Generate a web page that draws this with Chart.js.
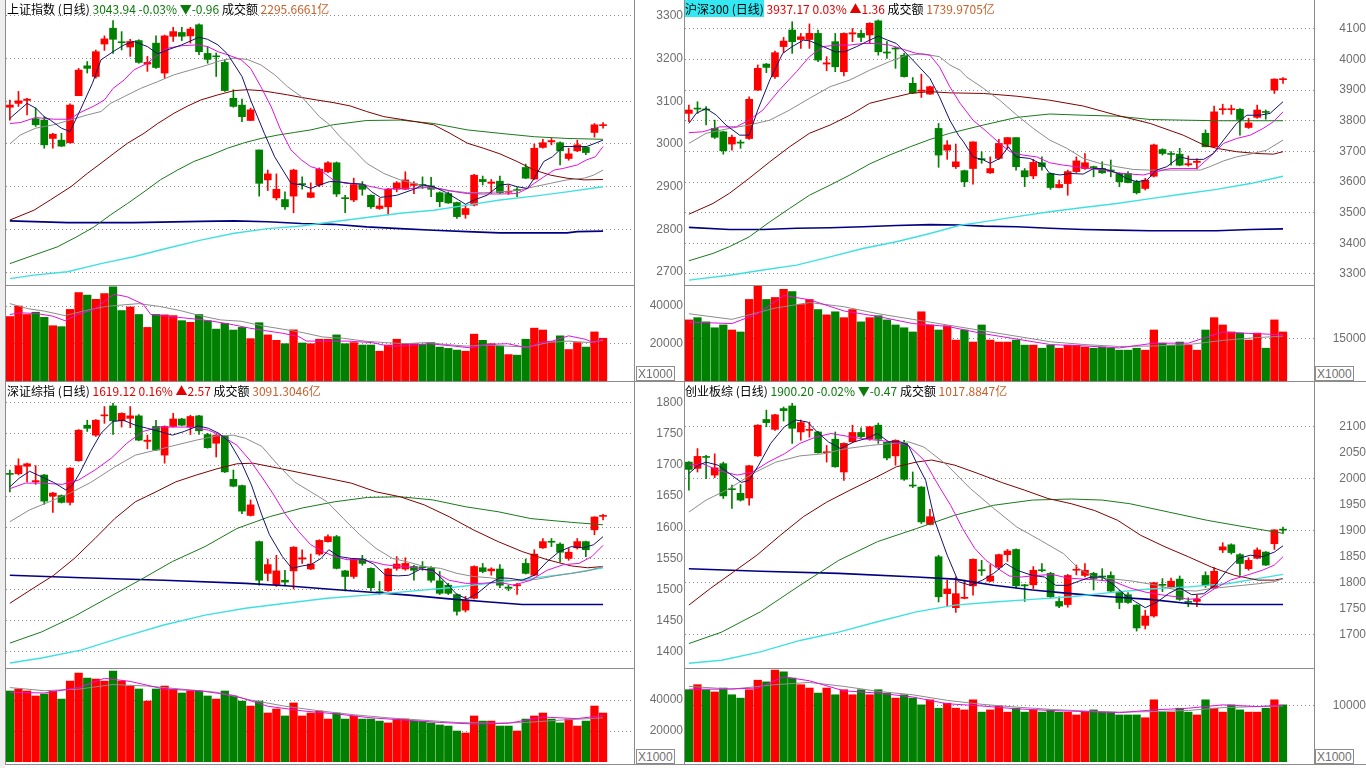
<!DOCTYPE html>
<html>
<head>
<meta charset="utf-8">
<title>指数日线</title>
<script src="https://cdn.jsdelivr.net/npm/chart.js@4.4.1/dist/chart.umd.min.js"></script>
<style>
html, body { margin: 0; padding: 0; background: #fff; }
#page { position: relative; width: 1366px; height: 768px; overflow: hidden; background: #fff; }
#page canvas { position: absolute; }
.ln { position: absolute; background: #8c8c8c; }
.ttl { position: absolute; z-index: 5; font: 12px "Noto Sans CJK SC", "Liberation Sans", sans-serif; line-height: 15px; white-space: pre; color: #000; }
.g { color: #0a7a0a; }
.r { color: #e00000; }
.o { color: #c8602a; }
.hl { background: #33e8f2; }
.unit { position: absolute; z-index: 5; border: 1px solid #8c8c8c; font: 12px "Liberation Sans", Arial, sans-serif; color: #707070; line-height: 12px; padding: 1px 1px 0 1px; background: #fff; }
</style>
</head>
<body>
<div id="page">
  <div class="ln" style="left:0;top:0;width:5px;height:768px;background:#eeeeee"></div>
  <div class="ln" style="left:5px;top:0;width:1px;height:765px"></div>

  <canvas id="shPrice" width="677" height="285" style="left:6px;top:0"></canvas>
  <canvas id="shVolume" width="677" height="95" style="left:6px;top:286px"></canvas>
  <canvas id="hsPrice" width="681" height="285" style="left:685px;top:0"></canvas>
  <canvas id="hsVolume" width="681" height="95" style="left:685px;top:286px"></canvas>
  <canvas id="szPrice" width="677" height="287" style="left:6px;top:381px"></canvas>
  <canvas id="szVolume" width="677" height="93" style="left:6px;top:669px"></canvas>
  <canvas id="cyPrice" width="681" height="287" style="left:685px;top:381px"></canvas>
  <canvas id="cyVolume" width="681" height="93" style="left:685px;top:669px"></canvas>

  <div class="ln" style="left:634px;top:0;width:1px;height:765px"></div>
  <div class="ln" style="left:684px;top:0;width:1px;height:765px"></div>
  <div class="ln" style="left:1314px;top:0;width:1px;height:765px"></div>
  <div class="ln" style="left:5px;top:285px;width:630px;height:1px"></div>
  <div class="ln" style="left:684px;top:285px;width:631px;height:1px"></div>
  <div class="ln" style="left:5px;top:381px;width:1361px;height:1px"></div>
  <div class="ln" style="left:5px;top:668px;width:630px;height:1px"></div>
  <div class="ln" style="left:684px;top:668px;width:631px;height:1px"></div>
  <div class="ln" style="left:5px;top:764px;width:1361px;height:1px"></div>

  <div class="ttl" style="left:7px;top:1px">上证指数 (日线) <span class="g">3043.94 -0.03% ▼-0.96</span> 成交额 <span class="o">2295.6661亿</span></div>
  <div class="ttl" style="left:685px;top:1px"><span class="hl">沪深300 (日线)</span> <span class="r">3937.17 0.03% ▲1.36</span> 成交额 <span class="o">1739.9705亿</span></div>
  <div class="ttl" style="left:7px;top:383px">深证综指 (日线) <span class="r">1619.12 0.16% ▲2.57</span> 成交额 <span class="o">3091.3046亿</span></div>
  <div class="ttl" style="left:685px;top:383px">创业板综 (日线) <span class="g">1900.20 -0.02% ▼-0.47</span> 成交额 <span class="o">1017.8847亿</span></div>

  <div class="unit" style="left:636px;top:366px">X1000</div>
  <div class="unit" style="left:1315px;top:366px">X1000</div>
  <div class="unit" style="left:636px;top:749px">X1000</div>
  <div class="unit" style="left:1315px;top:749px">X1000</div>
</div>
<script>
// ---- 上证指数: [open, high, low, close] ----
const shOHLC = [
  [3086,3103,3056,3091],[3095,3123,3088,3101],[3102,3107,3068,3105],[3059,3084,3041,3045],[3056,3064,2990,2998],
  [3013,3025,2990,3023],[3009,3025,2994,2995],[3003,3094,3002,3091],[3113,3177,3113,3173],[3183,3193,3166,3177],
  [3158,3220,3154,3216],[3234,3253,3219,3246],[3271,3289,3212,3245],[3238,3263,3220,3237],[3227,3245,3205,3240],
  [3242,3244,3189,3191],[3187,3205,3170,3191],[3236,3253,3177,3179],[3166,3255,3154,3253],[3252,3273,3240,3263],
  [3261,3273,3242,3252],[3253,3273,3236,3269],[3279,3281,3209,3216],[3212,3228,3189,3198],[3205,3213,3158,3204],
  [3191,3197,3123,3125],[3107,3127,3086,3088],[3091,3105,3052,3064],[3055,3084,3055,3080],[2986,2986,2878,2908],
  [2916,2939,2891,2930],[2874,2930,2869,2894],[2870,2888,2847,2853],[2878,2941,2839,2939],[2906,2923,2894,2905],
  [2875,2909,2874,2886],[2904,2944,2900,2941],[2935,2959,2933,2956],[2956,2958,2877,2883],[2873,2880,2839,2872],
  [2869,2920,2865,2905],[2905,2912,2880,2894],[2880,2881,2849,2853],[2849,2873,2847,2855],[2853,2896,2834,2894],
  [2894,2912,2888,2909],[2894,2935,2893,2916],[2903,2912,2884,2907],[2905,2923,2896,2903],[2902,2922,2877,2894],
  [2886,2888,2853,2865],[2884,2888,2861,2862],[2863,2864,2826,2830],[2835,2857,2826,2849],[2857,2929,2855,2927],
  [2917,2925,2904,2912],[2908,2917,2884,2911],[2913,2925,2884,2886],[2887,2904,2882,2889],[2893,2898,2877,2891],
  [2945,2953,2919,2920],[2918,3000,2917,2990],[2992,3011,2990,3003],[3005,3013,2998,3008],[3003,3005,2951,2984],
  [2966,2990,2962,2977],[2984,3009,2982,2998],[2992,2994,2975,2980],[3027,3048,3016,3044.9],[3043,3050,3037,3043.94]
];
const shVol = [34400,40000,35500,36700,34000,29500,29000,38200,47200,45800,43600,46700,50300,37600,39500,35500,28600,35500,35300,34900,
  32200,31300,35500,32200,27700,30800,27200,28600,22600,31100,24600,21700,19900,27300,20300,19900,22300,22300,24600,19900,
  20500,19200,19200,15900,19200,22300,19900,19900,19500,20500,18100,17400,16500,15900,25000,21700,19900,18600,14100,13800,
  22300,28200,27200,21000,24100,16800,20500,18100,26200,22800];
const shMa5 = [[0,3060],[2,3095],[3,3084],[4,3064],[4.7,3056],[6,3037],[7,3029],[8.2,3080],[9.6,3142],[10.6,3197],[12,3216],[13.3,3232],[14.4,3240],[16,3228],[17.2,3211],[18.3,3220],[20,3232],[22,3250],[23,3245],[24.2,3232],[25.3,3211],[27,3158],[28,3103],[29.6,3025],[30.8,2970],[32.7,2908],[34,2904],[35,2896],[36,2904],[37.2,2912],[38,2912],[39.6,2908],[41.1,2906],[42.1,2888],[43.1,2875],[45,2880],[47,2894],[48.1,2904],[49.3,2900],[50.8,2886],[52.2,2869],[53,2859],[54,2869],[55.5,2880],[57,2904],[58,2906],[59,2900],[60.2,2896],[61,2920],[62.1,2959],[63.1,2970],[64.4,2994],[66,2994],[67.1,2994],[69,3009]];
const shMa10 = [[0,3048],[1.2,3050],[3,3062],[4,3060],[5.1,3058],[7,3058],[8,3072],[9.8,3089],[11,3103],[12,3130],[13.3,3150],[14.4,3173],[16,3189],[17.2,3209],[18.3,3224],[20,3230],[21.8,3232],[23,3228],[24.2,3216],[25.3,3209],[26.9,3197],[28,3177],[29.2,3134],[30.4,3087],[31.5,3033],[32.7,2986],[33.9,2963],[35,2947],[36,2941],[37.6,2916],[39,2908],[40.7,2906],[42.1,2900],[43.5,2894],[45,2896],[46.6,2896],[48.5,2898],[50,2896],[51.2,2890],[53.2,2884],[55.1,2883],[57,2883],[59,2884],[60.2,2896],[61,2908],[62.1,2923],[63.3,2939],[64.4,2943],[66,2951],[67.1,2963],[68.1,2970],[69,2994]];
const shMa20 = [[0,3000],[1.2,3021],[3,3037],[5.1,3045],[7,3056],[9,3068],[10.6,3076],[11.7,3095],[13.3,3111],[15.2,3130],[17.2,3146],[19.1,3162],[21,3173],[23,3185],[24.5,3195],[26.1,3201],[27.6,3198],[29.2,3185],[30.8,3162],[32.3,3134],[33.9,3111],[35,3087],[36,3064],[37.2,3045],[38.4,3017],[40,2986],[41.5,2955],[43.5,2931],[45.4,2916],[47.3,2906],[49.3,2896],[51.2,2891],[53.2,2886],[55.1,2886],[57,2888],[59,2891],[61,2900],[62.9,2908],[64.8,2916],[66.8,2920],[67.9,2927],[69,2939]];
const shMa30 = [[0,2822],[2.8,2845],[4.7,2869],[7.1,2900],[9,2931],[10.6,2955],[12.1,2978],[13.7,3002],[15.6,3025],[17.2,3048],[19.1,3072],[20.7,3089],[22.2,3103],[24.2,3115],[26.1,3125],[27.6,3127],[29.2,3125],[30.8,3120],[32.3,3115],[33.9,3109],[35.7,3103],[37.6,3097],[39.6,3089],[41.5,3076],[43.5,3064],[45.4,3058],[47.3,3052],[49.3,3045],[51.2,3025],[53.2,3002],[55.1,2990],[57,2977],[59,2959],[61,2939],[62.9,2927],[64.8,2920],[66.8,2916],[69,2917]];
const shMa60 = [[0,2720],[2.8,2740],[5.5,2759],[7.8,2783],[9.8,2806],[11.7,2834],[13.7,2861],[15.6,2888],[17.5,2916],[19.5,2939],[21.4,2959],[23.4,2974],[25.3,2990],[27.3,3003],[29.2,3013],[31.2,3021],[33.1,3027],[35,3033],[37.6,3045],[41.5,3055],[45.4,3056],[47.3,3052],[49.3,3048],[53.2,3033],[57,3025],[61,3017],[64.8,3013],[69,3011]];
const shMa120 = [[0,2685],[2.8,2693],[6.7,2701],[10.6,2720],[14.4,2736],[18.3,2756],[22.2,2775],[26.1,2791],[30,2802],[33.9,2808],[37.6,2818],[41.5,2828],[45.4,2838],[49.3,2845],[53.2,2857],[57,2869],[61,2878],[64.8,2888],[69,2900]];
const shMa250 = [[0,2820],[6.7,2816],[14.4,2816],[22.2,2819],[26.1,2820],[30,2818],[33.9,2814],[37.6,2812],[41.5,2806],[45.4,2802],[49.3,2798],[53.2,2795],[57,2792],[64.8,2792],[66,2795],[69,2796]];
const shVolMa5 = [[0,35500],[1.2,36400],[3.1,36000],[5,34600],[6.4,32200],[7.9,35500],[9.8,38200],[12.1,46300],[13.6,45000],[15.5,41000],[16.4,35500],[18.3,34600],[20.2,33700],[22.1,32800],[24.1,31500],[26,30000],[27.9,28200],[29.8,26800],[31.7,25500],[33.6,23700],[34.5,21300],[37.4,21300],[39.3,21300],[42.1,20500],[44.1,18600],[46,18800],[48.8,19900],[51.7,18600],[53.6,17700],[55.5,19500],[57.9,19900],[60.2,17700],[61.7,20500],[63.1,21300],[65,24100],[66.9,22300],[67.9,20500],[69,22300]];
const shVolMa10 = [[0,41300],[2.1,38600],[4,37300],[6.4,34900],[8.8,37600],[11.2,39800],[12.6,40400],[15,41300],[17.4,39800],[19.8,37600],[22.1,34900],[24.5,32600],[26.9,31900],[29.3,29500],[31.7,27700],[34,25900],[36.4,23500],[38.8,22800],[41.2,21300],[43.6,20500],[46,19900],[48.4,20500],[50.7,19500],[53.1,18600],[55.5,19200],[57.9,18600],[60.2,18100],[62.6,20500],[65,21300],[67.4,20500],[69,21700]];
const shPriceTicks = [2700, 2800, 2900, 3000, 3100, 3200, 3300];
const shVolTicks = [20000, 40000];

// ---- 沪深300 ----
const hsOHLC = [
  [3824,3851,3797,3835],[3841,3862,3824,3838],[3837,3846,3786,3835],[3775,3802,3742,3746],[3764,3766,3691,3702],
  [3724,3753,3704,3746],[3729,3737,3710,3727],[3742,3878,3739,3870],[3900,3982,3898,3971],[3985,3987,3957,3974],
  [3944,4027,3938,4022],[4042,4072,4022,4060],[4096,4123,4020,4058],[4065,4085,4036,4074],[4065,4116,4036,4085],
  [4085,4096,3993,3998],[3985,4009,3963,3989],[4058,4085,3960,3976],[3960,4087,3946,4085],[4083,4101,4058,4087],
  [4085,4096,4058,4072],[4080,4120,4052,4118],[4126,4129,4014,4025],[4023,4058,4003,4021],[4037,4041,3971,4034],
  [4014,4020,3942,3944],[3922,3941,3889,3891],[3896,3952,3876,3900],[3887,3913,3886,3911],[3775,3791,3648,3688],
  [3704,3735,3674,3721],[3650,3724,3644,3666],[3637,3639,3585,3601],[3644,3731,3593,3731],[3675,3699,3661,3673],
  [3630,3682,3628,3644],[3677,3739,3674,3726],[3724,3745,3710,3745],[3745,3745,3639,3650],[3637,3644,3585,3617],
  [3620,3674,3611,3664],[3663,3682,3639,3650],[3628,3630,3576,3582],[3582,3606,3581,3592],[3595,3639,3557,3634],
  [3634,3682,3631,3669],[3644,3693,3641,3663],[3649,3652,3617,3647],[3644,3666,3628,3630],[3638,3672,3617,3636],
  [3628,3630,3585,3601],[3628,3634,3597,3598],[3601,3606,3561,3565],[3579,3612,3574,3606],[3619,3724,3617,3721],
  [3706,3709,3688,3693],[3692,3699,3655,3690],[3691,3710,3653,3655],[3656,3685,3652,3660],[3664,3676,3643,3668],
  [3759,3770,3715,3715],[3715,3848,3713,3829],[3836,3854,3821,3838],[3836,3851,3821,3839],[3837,3840,3753,3804],
  [3778,3808,3775,3793],[3811,3851,3808,3835],[3830,3835,3805,3827],[3900,3937,3889,3935.8],[3934,3941,3922,3937.17]
];
const hsVol = [21800,22600,21100,19000,20000,18200,17500,29100,33800,29100,29800,32700,31900,27300,29100,25500,23600,24700,22600,25500,
  21100,22600,23300,21800,20000,19000,17500,24700,20000,18200,19700,14600,18200,13900,20000,14600,13900,13900,14600,12800,
  12800,11700,12800,11700,12800,12800,12100,11700,12100,11700,11000,11000,11700,11000,18200,13500,12800,13900,12800,11000,
  18200,22600,20000,17500,17100,14600,17100,11700,21800,17500];
const hsMa5 = [[0,3791],[0.85,3824],[2,3840],[3.2,3818],[4.3,3786],[5.9,3753],[7,3753],[8,3835],[9.4,3933],[10.9,4020],[12,4042],[13.3,4063],[14,4061],[15.6,4042],[17,4025],[18.1,4025],[19.5,4042],[21,4063],[22,4076],[22.9,4065],[24.1,4052],[26,3998],[28,3938],[29.1,3878],[30.3,3802],[31.3,3753],[31.9,3731],[33,3682],[34.2,3672],[35,3661],[36.1,3677],[37.1,3715],[38,3682],[39.6,3677],[41.2,3655],[41.9,3628],[43.1,3623],[44.3,3628],[45.8,3626],[47,3644],[48.1,3644],[49.7,3630],[50.8,3612],[52,3601],[53.2,3606],[54.3,3639],[55.5,3650],[57,3682],[58.2,3674],[59.8,3674],[60.9,3693],[62.1,3737],[63.6,3791],[64.8,3818],[66.3,3818],[67.5,3824],[69,3862]];
const hsMa10 = [[0,3761],[1.6,3764],[3.6,3780],[5.5,3780],[7,3802],[8.6,3835],[10.5,3900],[12.5,3960],[14,4009],[15.6,4042],[17.1,4047],[18.7,4047],[20.2,4052],[21.8,4052],[23.3,4047],[24.9,4033],[26.4,4020],[28,4014],[29.1,3976],[30.3,3911],[31.5,3857],[33,3802],[34.6,3764],[36.1,3726],[37.3,3699],[38.8,3688],[40.4,3682],[41.9,3663],[43.5,3655],[45,3650],[46.6,3644],[48.1,3639],[49.7,3630],[51.2,3626],[52.8,3623],[54.3,3634],[55.9,3644],[57.4,3644],[59,3644],[60.5,3682],[62.1,3726],[63.6,3742],[65.2,3753],[66.7,3775],[67.9,3797],[69,3829]];
const hsMa20 = [[0,3726],[2,3759],[4.7,3775],[7,3786],[9.4,3802],[11.7,3835],[14,3873],[16.4,3911],[18.7,3933],[21,3965],[23.3,3993],[25.3,4014],[27.2,4018],[29.1,4009],[30.3,3982],[31.5,3965],[32.2,3944],[34.2,3906],[36.1,3867],[38.1,3818],[40,3775],[41.9,3737],[43.9,3710],[45.8,3677],[47.7,3661],[49.7,3650],[51.6,3641],[53.6,3639],[59.4,3639],[60.5,3650],[62.1,3669],[63.6,3682],[65.2,3691],[67.1,3704],[69,3737]];
const hsMa30 = [[0,3495],[2.8,3530],[4.7,3563],[7,3612],[9.4,3666],[11.7,3715],[14,3759],[16.4,3786],[18.7,3818],[21,3857],[23.3,3873],[25.7,3889],[28,3895],[30.3,3891],[34.2,3889],[38.1,3880],[41.9,3867],[45.8,3848],[49.7,3818],[53.6,3791],[57.4,3753],[59.8,3721],[61.3,3710],[63.6,3699],[66,3693],[67.9,3691],[69,3699]];
const hsMa60 = [[0,3343],[2.8,3367],[4.7,3389],[7,3421],[9.4,3470],[11.7,3514],[14,3557],[16.4,3590],[18.7,3623],[21,3659],[23.3,3688],[25.7,3715],[28,3739],[30.3,3759],[34.2,3786],[38.1,3811],[41.9,3822],[45.8,3818],[49.7,3815],[53.6,3804],[57.4,3802],[61.3,3800],[69,3800]];
const hsMa120 = [[0,3280],[4.7,3296],[8.6,3313],[12.5,3329],[16.4,3356],[20.2,3383],[24.1,3405],[28,3432],[31.5,3459],[34.2,3470],[38.1,3487],[41.9,3503],[45.8,3517],[49.7,3530],[53.6,3546],[57.4,3561],[61.3,3576],[65.2,3595],[69,3619]];
const hsMa250 = [[0,3452],[4.7,3445],[8.6,3445],[12.5,3449],[16.4,3451],[20.2,3454],[24.1,3458],[28,3461],[31.5,3460],[34.2,3456],[38.1,3454],[41.9,3449],[45.8,3445],[49.7,3443],[53.6,3441],[61.3,3441],[65.2,3445],[69,3447]];
const hsVolMa5 = [[0,21000],[5,20500],[8,24000],[11,30500],[14,29000],[18,25000],[22,23000],[26,20500],[30,19500],[34,17000],[38,15000],[42,13000],[46,12500],[50,11800],[54,13500],[58,13500],[62,17500],[65,17000],[69,16500]];
const hsVolMa10 = [[0,24000],[5,22000],[10,26000],[14,28000],[18,26500],[22,24000],[26,22000],[30,20000],[34,18000],[38,16000],[42,14000],[46,13000],[50,12300],[54,12500],[58,13000],[62,14500],[66,15500],[69,16000]];
const hsPriceTicks = [3300, 3400, 3500, 3600, 3700, 3800, 3900, 4000, 4100];
const hsVolTicks = [15000];

// ---- 深证综指 ----
const szOHLC = [
  [1686,1692,1657,1685],[1686,1710,1684,1699],[1698,1703,1673,1702],[1673,1699,1669,1675],[1684,1685,1637,1642],
  [1650,1656,1624,1655],[1651,1652,1639,1640],[1640,1696,1636,1695],[1707,1757,1706,1756],[1764,1772,1754,1759],
  [1748,1773,1746,1772],[1779,1794,1767,1780],[1795,1799,1749,1771],[1771,1784,1761,1783],[1775,1794,1760,1779],
  [1779,1781,1739,1740],[1738,1748,1726,1740],[1762,1772,1723,1724],[1716,1763,1703,1762],[1762,1783,1761,1774],
  [1774,1775,1763,1764],[1761,1780,1749,1778],[1779,1780,1749,1755],[1749,1751,1727,1728],[1735,1749,1713,1748],
  [1746,1747,1688,1689],[1677,1692,1665,1666],[1667,1668,1622,1626],[1619,1644,1618,1636],[1577,1578,1507,1515],
  [1526,1549,1514,1540],[1508,1555,1505,1530],[1515,1531,1506,1512],[1530,1569,1501,1568],[1549,1564,1542,1551],
  [1533,1557,1532,1541],[1557,1580,1555,1579],[1577,1588,1576,1585],[1585,1587,1533,1534],[1530,1531,1498,1521],
  [1521,1550,1518,1549],[1549,1555,1539,1542],[1534,1535,1498,1503],[1496,1513,1492,1495],[1498,1534,1497,1533],
  [1534,1553,1531,1541],[1533,1551,1531,1542],[1537,1539,1515,1531],[1536,1545,1531,1535],[1535,1537,1512,1515],
  [1514,1529,1492,1494],[1507,1510,1492,1494],[1492,1493,1459,1465],[1467,1489,1464,1483],[1486,1538,1485,1537],
  [1535,1542,1527,1529],[1530,1535,1523,1533],[1533,1540,1503,1507],[1504,1507,1498,1502],[1506,1510,1492,1508],
  [1542,1549,1525,1526],[1523,1564,1522,1557],[1567,1582,1566,1577],[1577,1582,1569,1576],[1573,1575,1544,1560],
  [1550,1566,1547,1560],[1567,1582,1565,1577],[1577,1578,1553,1564],[1596,1617,1588,1616.55],[1617.5,1621,1612,1619.12]
];
const szVol = [45800,47100,45800,42600,43900,45800,40600,52200,57400,54200,53500,52200,58700,52200,49000,47100,39300,47100,49000,47100,
  44500,45800,45800,42600,40600,45800,42600,39300,36100,39300,31600,34200,29700,38100,29700,31600,32900,27700,31600,27700,
  29700,27700,27700,26400,25200,27700,27700,26400,26400,25200,23900,23200,20000,18700,29700,26400,26400,23200,23200,20000,
  27700,29700,31600,27700,25200,27700,23200,26400,36100,31600];
const szMa5 = [[0,1665],[1.1,1679],[2.3,1690],[3.7,1681],[5.1,1672],[6.5,1660],[7.3,1668],[8.2,1689],[9.4,1722],[10.6,1751],[12,1770],[13.2,1772],[14.6,1764],[16,1759],[17.4,1754],[18.9,1748],[20.3,1754],[21.9,1763],[23.1,1759],[24.3,1751],[25.5,1738],[26.9,1705],[28.1,1668],[29.3,1620],[30.2,1588],[31.7,1553],[32.8,1534],[34,1538],[35,1540],[36.2,1550],[37.1,1564],[38.3,1553],[39.7,1550],[41.1,1549],[42.3,1541],[43.7,1523],[45.2,1522],[46.4,1523],[47.8,1533],[49.2,1531],[50.6,1513],[52,1492],[53.2,1485],[54.4,1494],[55.8,1510],[57,1519],[58.1,1518],[59.6,1515],[61,1523],[62.5,1545],[63.9,1561],[65.3,1569],[66.7,1567],[67.9,1572],[69,1585]];
const szMa10 = [[0,1662],[1.8,1671],[3.7,1671],[6.1,1669],[8,1676],[9.9,1692],[11.8,1711],[13.6,1735],[15.5,1754],[17.4,1761],[21.2,1761],[23.1,1756],[24.5,1748],[26.4,1732],[27.9,1708],[29.3,1681],[30.7,1652],[32.1,1620],[33.6,1593],[35,1572],[36.4,1561],[37.8,1553],[39.2,1548],[40.7,1548],[42.1,1545],[43.5,1540],[45.4,1537],[47.3,1535],[49.2,1529],[51.1,1515],[53,1510],[54.9,1510],[56.8,1512],[58.6,1507],[60.6,1515],[62.5,1531],[64.4,1540],[66.2,1542],[67.7,1553],[69,1571]];
const szMa20 = [[0,1609],[2.3,1628],[4.6,1641],[7,1655],[9.4,1672],[12.2,1697],[14.6,1716],[17,1724],[19.3,1732],[21.7,1740],[24.1,1747],[26,1748],[27.4,1743],[29.3,1730],[31.2,1700],[33.1,1673],[35,1657],[36.9,1641],[38.8,1614],[40.7,1588],[42.6,1566],[44.5,1550],[46.4,1544],[48.2,1537],[50.1,1534],[52,1526],[53.9,1521],[55.8,1519],[57.7,1515],[59.6,1514],[61.5,1517],[63.4,1522],[65.3,1526],[67.2,1530],[69,1537]];
const szMa30 = [[0,1478],[2.7,1502],[5.1,1523],[7.5,1550],[9.9,1582],[12.2,1614],[14.6,1641],[17,1657],[19.3,1673],[21.7,1684],[24.1,1694],[26.4,1702],[28.3,1703],[31.2,1695],[34,1687],[36.9,1679],[39.7,1671],[42.6,1657],[45.4,1649],[48.2,1636],[51.1,1617],[53.9,1596],[56.8,1577],[59.6,1561],[62.5,1548],[65.3,1538],[67.2,1535],[69,1537]];
const szMa60 = [[0,1414],[3.7,1432],[7.5,1457],[11.3,1486],[15.1,1515],[18.9,1545],[22.7,1569],[26.4,1598],[30.2,1617],[34,1631],[37.8,1641],[41.6,1648],[45.4,1649],[49.2,1644],[53,1633],[56.8,1625],[60.6,1614],[65.3,1608],[69,1604]];
const szMa120 = [[0,1382],[3.7,1390],[8.4,1403],[13.2,1424],[17.9,1443],[22.7,1459],[27.4,1470],[32.1,1478],[36.9,1486],[41.6,1491],[46.4,1497],[51.1,1503],[55.8,1510],[60.6,1518],[65.3,1526],[69,1535]];
const szMa250 = [[0,1523],[8.4,1519],[17.9,1515],[27.4,1510],[32.1,1506],[36.9,1501],[41.6,1496],[46.4,1491],[51.1,1485],[55.8,1480],[59.6,1476],[69,1476]];
const szVolMa5 = [[0,45000],[4,44500],[8,48000],[11,54000],[14,52000],[18,47000],[22,46000],[26,43000],[30,36000],[34,33000],[38,31000],[42,28500],[46,27000],[50,25500],[54,24500],[58,25000],[62,29000],[66,28000],[69,30000]];
const szVolMa10 = [[0,48000],[4,46000],[8,47000],[12,50000],[16,49000],[20,47000],[24,45000],[28,40000],[32,36000],[36,33000],[40,30500],[44,28500],[48,27000],[52,25500],[56,25000],[60,25500],[64,27000],[69,28500]];
const szPriceTicks = [1400, 1450, 1500, 1550, 1600, 1650, 1700, 1750, 1800];
const szVolTicks = [20000, 40000];

// ---- 创业板综 ----
const cyOHLC = [
  [2031,2032,1977,2017],[2019,2057,2012,2042],[2041,2044,1999,2040],[2006,2047,2001,2020],[2028,2031,1961,1966],
  [1979,1987,1942,1978],[1971,1988,1956,1958],[1962,2025,1948,2024],[2043,2103,2042,2102],[2113,2131,2099,2107],
  [2094,2123,2092,2122],[2134,2137,2110,2130],[2139,2144,2067,2096],[2089,2112,2073,2107],[2092,2108,2079,2094],
  [2089,2090,2048,2049],[2049,2063,2031,2050],[2075,2089,2021,2022],[2012,2068,1996,2067],[2070,2102,2069,2088],
  [2088,2097,2078,2080],[2076,2100,2073,2099],[2102,2106,2067,2075],[2069,2070,2035,2039],[2043,2074,2025,2073],
  [2067,2073,1996,1998],[1986,2012,1982,1985],[1983,1984,1913,1916],[1911,1940,1910,1926],[1849,1852,1762,1772],
  [1778,1804,1753,1787],[1751,1810,1742,1778],[1769,1804,1768,1771],[1793,1845,1775,1844],[1823,1842,1813,1822],
  [1802,1834,1801,1812],[1829,1854,1826,1853],[1853,1863,1840,1860],[1863,1864,1789,1793],[1795,1796,1763,1793],
  [1795,1830,1787,1823],[1823,1836,1820,1822],[1817,1819,1770,1772],[1763,1772,1751,1754],[1757,1815,1752,1813],
  [1823,1833,1814,1824],[1813,1836,1810,1823],[1817,1819,1785,1807],[1811,1826,1805,1810],[1813,1820,1782,1783],
  [1781,1784,1749,1761],[1776,1780,1759,1761],[1756,1757,1706,1712],[1717,1746,1710,1735],[1735,1800,1733,1799],
  [1795,1807,1782,1794],[1791,1808,1789,1802],[1806,1812,1765,1767],[1763,1770,1753,1761],[1763,1775,1753,1767],
  [1813,1820,1790,1794],[1789,1828,1788,1821],[1862,1876,1857,1868],[1872,1874,1854,1857],[1853,1855,1813,1836],
  [1826,1847,1823,1842],[1846,1866,1845,1862],[1858,1859,1832,1833],[1874,1901,1863,1900.67],[1901,1906,1894,1900.2]
];
const cyVol = [12900,13800,12900,12500,13200,12000,11400,12900,14600,14300,16400,16100,15000,13800,13200,12300,13200,12000,12900,12000,
  12900,12000,12900,12300,11400,12000,11400,10200,11100,9600,10500,9600,9300,11100,8900,9300,10000,8900,9600,8900,
  9300,8900,9300,8900,8900,8400,8900,9300,8900,8900,8400,8400,8400,7900,11100,8900,8900,9600,8900,8400,
  11100,9600,8900,10200,9300,8900,8900,9600,11100,10200];
const cyMa5 = [[0,2009],[1.1,2025],[2,2031],[3.4,2025],[4.7,2009],[6.1,1992],[7,1996],[8.1,2025],[9.5,2067],[11.1,2099],[12.4,2112],[13.8,2108],[14.9,2089],[16.2,2070],[17.6,2057],[19.2,2070],[20.5,2076],[21.9,2086],[23.2,2070],[24.6,2070],[25.5,2063],[26.4,2031],[27.5,1996],[28.6,1916],[30,1852],[31.3,1801],[32.7,1794],[34.1,1804],[35.4,1817],[36.8,1836],[38.1,1823],[39.9,1813],[41.3,1810],[42.6,1794],[44,1794],[45.3,1802],[46.7,1810],[48,1810],[49.4,1794],[50.7,1775],[51.9,1762],[53,1751],[54.4,1762],[55.7,1778],[57,1789],[58.4,1776],[59.8,1778],[61.1,1794],[62.5,1823],[63.9,1846],[65.2,1852],[66.6,1849],[68,1858],[69,1870]];
const cyMa10 = [[0,2025],[1.6,2028],[3.4,2015],[5.6,2006],[7.4,2012],[9.2,2031],[11.1,2047],[12.9,2067],[14.7,2079],[16.5,2086],[18.3,2081],[20.1,2076],[21.9,2073],[23.7,2070],[25.5,2063],[27.3,2035],[29.1,1983],[30.4,1948],[31.8,1903],[33.2,1865],[34.5,1842],[35.9,1826],[37.2,1812],[38.6,1810],[40.4,1813],[42.2,1815],[44,1808],[45.8,1806],[47.6,1804],[49.4,1801],[51.2,1789],[53,1781],[54.8,1776],[56.6,1772],[58,1767],[59.3,1769],[61.1,1788],[62.9,1804],[64.7,1813],[66.6,1823],[68,1833],[69,1849]];
const cyMa20 = [[0,1935],[2,1958],[4.7,1980],[7.4,2009],[10.1,2031],[12.9,2043],[15.6,2047],[18.3,2057],[21,2063],[23.7,2067],[25.5,2070],[27.3,2060],[30,2025],[32.7,1980],[35.4,1942],[38.1,1906],[40.8,1881],[43.5,1855],[45.3,1826],[47.1,1810],[48.9,1807],[51.6,1802],[54.4,1794],[56.6,1785],[58.9,1783],[60.7,1788],[62.5,1791],[64.3,1794],[66.1,1797],[68,1801],[69,1807]];
const cyMa30 = [[0,1756],[2.5,1788],[5.2,1820],[7.9,1852],[10.6,1890],[13.3,1926],[16,1954],[18.7,1977],[21.4,1999],[24.1,2022],[26.4,2031],[28.2,2035],[30.9,2025],[33.6,2009],[36.3,1992],[39,1977],[41.7,1961],[44.4,1951],[47.1,1938],[49.8,1919],[52.5,1890],[55.3,1868],[58,1849],[60.7,1829],[63.4,1813],[66.1,1804],[68,1804],[69,1807]];
const cyMa60 = [[0,1682],[3.8,1704],[8.3,1743],[12.9,1794],[17.4,1842],[21.9,1878],[26.4,1903],[30.9,1929],[35.4,1948],[39.9,1958],[44.4,1960],[48,1958],[51.2,1951],[55.7,1935],[60.2,1919],[64.7,1906],[69,1894]];
const cyMa120 = [[0,1644],[3.8,1650],[8.3,1666],[12.9,1688],[17.4,1704],[21.9,1724],[26.4,1743],[30.9,1756],[35.4,1762],[39.9,1767],[44.4,1772],[48.9,1780],[53.5,1787],[58,1791],[62.5,1797],[69,1815]];
const cyMa250 = [[0,1826],[8.3,1821],[17.4,1817],[26.4,1810],[30.9,1806],[35.4,1794],[39.9,1785],[44.4,1778],[48.9,1772],[53.5,1767],[58,1759],[59.8,1757],[69,1757]];
const cyVolMa5 = [[0,13000],[4,13000],[8,13200],[11,15200],[14,14500],[18,12700],[22,12300],[26,11600],[30,10400],[34,10000],[38,9500],[42,9200],[46,9000],[50,8800],[54,9300],[58,9600],[62,10200],[66,9900],[69,10100]];
const cyVolMa10 = [[0,13500],[5,13000],[10,13800],[14,14200],[18,13500],[22,12600],[26,12000],[30,11000],[34,10300],[38,9800],[42,9400],[46,9100],[50,8900],[54,9000],[58,9200],[62,9700],[66,9900],[69,10000]];
const cyPriceTicks = [1700, 1750, 1800, 1850, 1900, 1950, 2000, 2050, 2100];
const cyVolTicks = [10000];

// ---- drawing ----
const X_MIN = -0.45, X_MAX = 72.6;
const UP = '#ff0000', DOWN = '#008000';
const MA_COLORS = ['#12126e', '#e010e0', '#8c8c8c', '#800000', '#1a7a1a', '#40e0e0', '#000080'];
const MA_WIDTHS = [1, 1, 1, 1, 1, 1.4, 1.6];

function line(pts, color, w) {
  return { type: 'line', data: pts, borderColor: color, borderWidth: w || 1,
    pointRadius: 0, tension: 0, fill: false, order: 1 };
}

function options(yMin, yMax, ticks, axisW, pad, gridEvery) {
  return {
    animation: false, responsive: false, events: [],
    layout: { padding: 0 },
    plugins: { legend: { display: false }, tooltip: { enabled: false } },
    scales: {
      x: { type: 'linear', min: X_MIN, max: X_MAX, display: false, offset: false },
      y: {
        position: 'right', min: yMin, max: yMax,
        afterBuildTicks: a => { a.ticks = ticks.map(v => ({ value: v })); },
        afterFit: a => { a.width = axisW; a.paddingTop = 0; a.paddingBottom = 0; },
        grid: {
          drawTicks: false, lineWidth: 1,
          color: ctx => (gridEvery && ctx.tick && ctx.tick.value % gridEvery !== 0) ? 'rgba(0,0,0,0)' : '#8a8a8a'
        },
        border: { display: false, dash: [1, 3] },
        ticks: { color: '#6e6e6e', font: { family: 'Liberation Sans', size: 12 },
          padding: pad, crossAlign: 'far', autoSkip: false, callback: v => String(v) }
      }
    }
  };
}

function panel(prefix, ohlc, mas, vol, volMas, price, volume, axisW) {
  const cols = ohlc.map(r => r[3] >= r[0] ? UP : DOWN);
  new Chart(document.getElementById(prefix + 'Price'), {
    type: 'bar',
    data: {
      datasets: [
        { type: 'bar', data: ohlc.map((r, i) => ({ x: i, y: [r[0], r[3]] })), backgroundColor: cols,
          barThickness: 7, minBarLength: 1, grouped: false, order: 3 },
        { type: 'bar', data: ohlc.map((r, i) => ({ x: i, y: [r[2], r[1]] })), backgroundColor: cols,
          barThickness: 1, grouped: false, order: 4 },
        ...mas.map((m, k) => line(m, MA_COLORS[k], MA_WIDTHS[k]))
      ]
    },
    options: options(price.min, price.max, price.ticks, axisW, 21, price.gridEvery)
  });
  new Chart(document.getElementById(prefix + 'Volume'), {
    type: 'bar',
    data: {
      datasets: [
        { type: 'bar', data: vol.map((v, i) => ({ x: i, y: v })), backgroundColor: cols,
          barThickness: 7.6, grouped: false, order: 3 },
        line(volMas[0], '#e010e0'),
        line(volMas[1], '#8c8c8c')
      ]
    },
    options: options(0, volume.max, volume.ticks, axisW, 14.6)
  });
}

panel('sh', shOHLC, [shMa5, shMa10, shMa20, shMa30, shMa60, shMa120, shMa250], shVol, [shVolMa5, shVolMa10],
  { min: 2670, max: 3337, ticks: shPriceTicks }, { max: 50700, ticks: shVolTicks }, 49);
panel('hs', hsOHLC, [hsMa5, hsMa10, hsMa20, hsMa30, hsMa60, hsMa120, hsMa250], hsVol, [hsVolMa5, hsVolMa10],
  { min: 3264, max: 4194, ticks: hsPriceTicks }, { max: 33900, ticks: hsVolTicks }, 52);
panel('sz', szOHLC, [szMa5, szMa10, szMa20, szMa30, szMa60, szMa120, szMa250], szVol, [szVolMa5, szVolMa10],
  { min: 1374, max: 1835, ticks: szPriceTicks }, { max: 60000, ticks: szVolTicks }, 49);
panel('cy', cyOHLC, [cyMa5, cyMa10, cyMa20, cyMa30, cyMa60, cyMa120, cyMa250], cyVol, [cyVolMa5, cyVolMa10],
  { min: 1635, max: 2187, ticks: cyPriceTicks, gridEvery: 100 }, { max: 16600, ticks: cyVolTicks }, 52);
</script>
</body>
</html>
